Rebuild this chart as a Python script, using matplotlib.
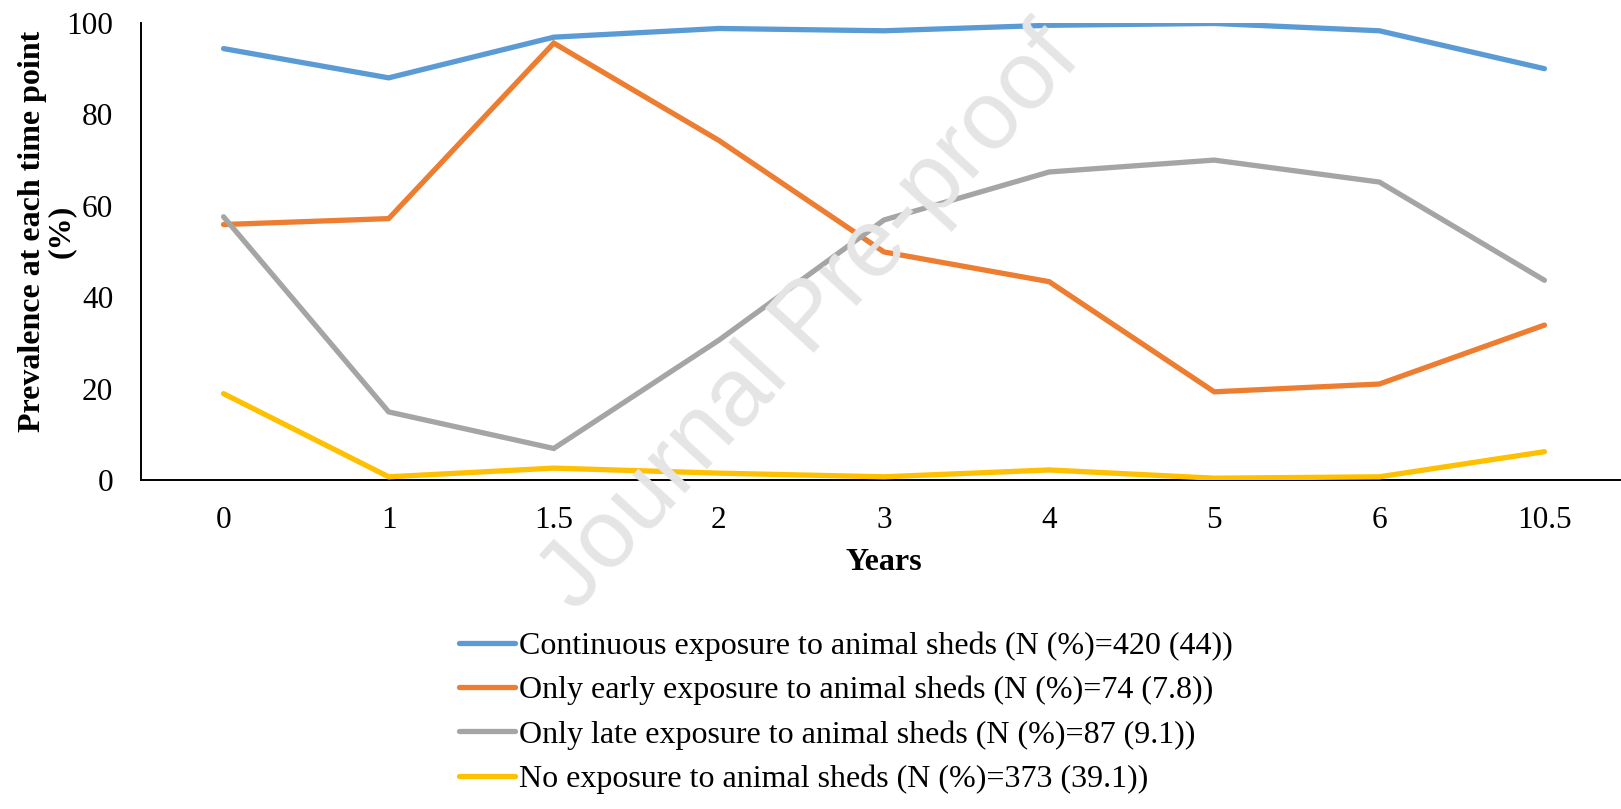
import matplotlib
matplotlib.use("Agg")
import matplotlib.pyplot as plt

plt.rcParams['font.family'] = ['Liberation Serif', 'DejaVu Serif']

years = ['0', '1', '1.5', '2', '3', '4', '5', '6', '10.5']
continuous = [94.4, 88.0, 96.9, 98.8, 98.3, 99.5, 99.9, 98.3, 90.0]
early_only = [55.9, 57.2, 95.6, 74.3, 49.9, 43.4, 19.3, 21.0, 33.9]
late_only = [57.6, 14.9, 6.9, 30.6, 56.9, 67.4, 70.0, 65.2, 43.7]
no_exposure = [18.9, 0.7, 2.6, 1.5, 0.7, 2.2, 0.4, 0.7, 6.2]

labels = ['Continuous exposure to animal sheds (N (%)=420 (44))',
          'Only early exposure to animal sheds (N (%)=74 (7.8))',
          'Only late exposure to animal sheds (N (%)=87 (9.1))',
          'No exposure to animal sheds (N (%)=373 (39.1))']
colors = ['#5B9BD5', '#ED7D31', '#A5A5A5', '#FFC000']

W, H = 1621, 809
fig = plt.figure(figsize=(W / 100, H / 100), dpi=100)
ax = fig.add_axes([141 / W, 1 - 480 / H, 1486 / W, 457 / H])

x = range(len(years))
series = [continuous, early_only, late_only, no_exposure]
for vals, lab, c in zip(series, labels, colors):
    ax.plot(x, vals, color=c, lw=3.8, label=lab, solid_capstyle='round',
            solid_joinstyle='miter', zorder=3)

ax.set_xlim(-0.5, len(years) - 0.5)
ax.set_ylim(0, 100)
ax.set_xticks(list(x))
ax.set_xticklabels(years)
ax.set_yticks([0, 20, 40, 60, 80, 100])
ax.tick_params(axis='both', length=0, labelsize=22.5)
ax.tick_params(axis='x', pad=19)
ax.tick_params(axis='y', pad=20)
for s in ['top', 'right']:
    ax.spines[s].set_visible(False)
for s in ['left', 'bottom']:
    ax.spines[s].set_linewidth(1.4)
    ax.spines[s].set_color('black')

# y label sits left of the tick numbers
fig.text(0.029, 1 - 231 / H, 'Prevalence at each time point\n(%)', rotation=90,
         ha='center', va='center', fontsize=23, fontweight='bold',
         multialignment='center', linespacing=1.0)
fig.text(884 / W, 1 - 563 / H, 'Years', ha='center', va='center',
         fontsize=23, fontweight='bold')

leg = fig.legend(loc='upper left', bbox_to_anchor=(446 / W, 1 - 619 / H),
                 frameon=False, fontsize=23, handlelength=1.75,
                 handletextpad=0.12, labelspacing=0.46, borderaxespad=0)

# watermark
fig.text(811 / W, 1 - 320 / H, 'Journal Pre-proof', rotation=47.5,
         ha='center', va='center', fontsize=70, color='#e5e5e5',
         family='Liberation Sans', zorder=0)

fig.savefig('out.png', dpi=100)
